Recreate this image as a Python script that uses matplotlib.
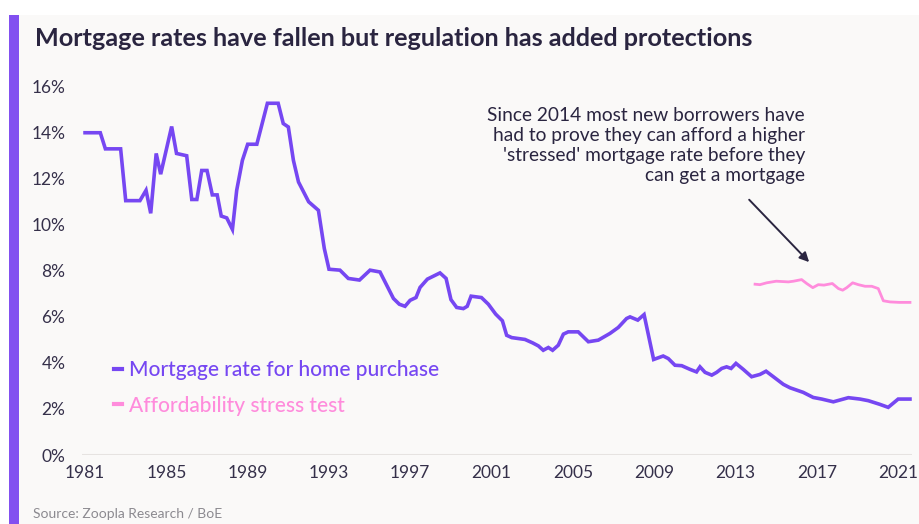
import matplotlib
matplotlib.use("Agg")
import matplotlib.pyplot as plt
from matplotlib.patches import Rectangle

# ---- data ----
mortgage_years = [1981.0, 1981.75, 1982.0, 1982.75, 1983.0, 1983.7, 1984.0, 1984.23, 1984.5, 1984.72,
                  1985.26, 1985.5, 1986.0, 1986.25, 1986.5, 1986.74, 1987.0, 1987.26, 1987.5, 1987.7,
                  1987.97, 1988.25, 1988.46, 1988.74, 1989.0, 1989.45, 1989.97, 1990.5, 1990.75, 1991.0,
                  1991.25, 1991.5, 1992.0, 1992.48, 1992.77, 1993.0, 1993.54, 1993.95, 1994.5, 1995.02,
                  1995.51, 1996.17, 1996.46, 1996.74, 1996.99, 1997.28, 1997.48, 1997.84, 1998.46, 1998.76,
                  1999.0, 1999.28, 1999.61, 1999.8, 1999.99, 2000.5, 2000.84, 2001.2, 2001.53, 2001.74,
                  2001.99, 2002.64, 2003.02, 2003.3, 2003.54, 2003.79, 2004.0, 2004.28, 2004.53, 2004.77,
                  2005.26, 2005.76, 2006.25, 2006.82, 2007.23, 2007.64, 2007.81, 2008.19, 2008.5, 2008.97,
                  2009.44, 2009.69, 2010.02, 2010.35, 2010.76, 2011.08, 2011.25, 2011.5, 2011.83, 2012.07,
                  2012.32, 2012.56, 2012.78, 2013.02, 2013.38, 2013.79, 2014.2, 2014.5, 2014.86, 2015.35,
                  2015.68, 2016.33, 2016.82, 2017.24, 2017.81, 2018.14, 2018.55, 2019.12, 2019.53, 2020.1,
                  2020.51, 2021.0, 2021.58]
mortgage_rate = [14.0, 14.0, 13.3, 13.3, 11.05, 11.05, 11.5, 10.5, 13.1, 12.2,
                 14.27, 13.1, 13.0, 11.1, 11.1, 12.36, 12.36, 11.3, 11.3, 10.38,
                 10.3, 9.8, 11.5, 12.8, 13.5, 13.5, 15.28, 15.28, 14.4, 14.25,
                 12.8, 11.86, 11.0, 10.63, 8.97, 8.07, 8.03, 7.67, 7.6, 8.03,
                 7.95, 6.8, 6.55, 6.46, 6.72, 6.84, 7.28, 7.64, 7.91, 7.67,
                 6.75, 6.41, 6.36, 6.46, 6.9, 6.84, 6.55, 6.12, 5.83, 5.2,
                 5.1, 5.02, 4.87, 4.74, 4.55, 4.67, 4.55, 4.77, 5.25, 5.35,
                 5.35, 4.92, 4.99, 5.28, 5.54, 5.93, 6.0, 5.86, 6.1, 4.15,
                 4.3, 4.19, 3.9, 3.88, 3.72, 3.61, 3.83, 3.59, 3.47, 3.59,
                 3.76, 3.83, 3.76, 3.98, 3.72, 3.4, 3.5, 3.64, 3.4, 3.07,
                 2.92, 2.72, 2.5, 2.43, 2.31, 2.39, 2.49, 2.43, 2.36, 2.2,
                 2.07, 2.43, 2.43]

stress_years = [2013.96, 2014.2, 2014.53, 2015.0, 2015.6, 2015.85, 2016.25, 2016.5, 2016.8, 2017.07,
                2017.35, 2017.76, 2018.06, 2018.27, 2018.47, 2018.76, 2019.04, 2019.37, 2019.7, 2020.02,
                2020.27, 2020.6, 2021.05, 2021.58]
stress_rate = [7.42, 7.4, 7.48, 7.55, 7.52, 7.55, 7.62, 7.45, 7.27, 7.4,
               7.38, 7.45, 7.23, 7.16, 7.27, 7.48, 7.4, 7.33, 7.33, 7.23,
               6.7, 6.65, 6.63, 6.63]

x_ticks = [1981, 1985, 1989, 1993, 1997, 2001, 2005, 2009, 2013, 2017, 2021]
y_ticks = [0, 2, 4, 6, 8, 10, 12, 14, 16]

title = "Mortgage rates have fallen but regulation has added protections"
series_names = ["Mortgage rate for home purchase", "Affordability stress test"]
note = ("Since 2014 most new borrowers have\n"
        "had to prove they can afford a higher\n"
        "'stressed' mortgage rate before they\n"
        "can get a mortgage")
source = "Source: Zoopla Research / BoE"

# ---- style ----
FONT = ["Lato", "DejaVu Sans"]
plt.rcParams["font.family"] = FONT
PURPLE = "#7647f2"
PINK = "#ff8cdc"
DARK = "#2a2540"
BG = "#faf9f8"

W, H = 919, 524
fig = plt.figure(figsize=(W / 100, H / 100), dpi=100, facecolor="white")

# background panel and left accent bar
fig.patches.append(Rectangle((18 / W, 0), 1 - 18 / W, 1 - 15 / H, transform=fig.transFigure,
                             facecolor=BG, edgecolor="none", zorder=-10))
fig.patches.append(Rectangle((9 / W, 0), 9.5 / W, 1 - 15 / H, transform=fig.transFigure,
                             facecolor="#8250f0", edgecolor="none", zorder=-10))

left, right, top, bottom = 82, 912, 86.7, 455
ax = fig.add_axes([left / W, 1 - bottom / H, (right - left) / W, (bottom - top) / H])
ax.set_zorder(5)
ax.set_facecolor("none")
ax.set_xlim(1980.85, 2021.68)
ax.set_ylim(0, 16)

ax.axhline(0, color="#e6e3e1", lw=1.5, zorder=1)
l1, = ax.plot(mortgage_years, mortgage_rate, color=PURPLE, lw=2.6, solid_joinstyle="miter",
              label=series_names[0], zorder=3, clip_on=False)
l2, = ax.plot(stress_years, stress_rate, color=PINK, lw=2.0, label=series_names[1],
              zorder=3, clip_on=False)

for s in ax.spines.values():
    s.set_visible(False)
ax.set_xticks(x_ticks)
ax.set_xticklabels([str(t) for t in x_ticks])
ax.set_yticks(y_ticks)
ax.set_yticklabels([f"{t}%" for t in y_ticks])
ax.tick_params(axis="both", length=0, colors="#35304a", labelsize=12.5)
ax.tick_params(axis="y", pad=12)
ax.tick_params(axis="x", pad=7)

leg = ax.legend(handles=[l1, l2], loc="upper left", bbox_to_anchor=(114 / W, 1 - 360 / H),
                bbox_transform=fig.transFigure, frameon=False,
                handlelength=0.4, handletextpad=0.3, labelspacing=0.75, labelcolor="linecolor",
                borderaxespad=0, borderpad=0, prop={"weight": "medium", "size": 15})
for h in leg.legend_handles:
    h.set_linewidth(3)

ax.text(2016.42, 15.1, note, ha="right", va="top", multialignment="right",
        fontsize=13.8, color=DARK, linespacing=1.2)
ax.annotate("", xy=(2016.62, 8.38), xytext=(2013.67, 11.09),
            arrowprops=dict(arrowstyle="-|>", color=DARK, lw=1.4, mutation_scale=14,
                            shrinkA=0, shrinkB=0))

fig.text(35 / W, 1 - 39 / H, title, ha="left", va="center", fontsize=18.2,
         fontweight="bold", color=DARK)
fig.text(33 / W, 1 - 514 / H, source, ha="left", va="center", fontsize=10, color="#8c8a90")

fig.savefig("out.png", dpi=100, facecolor=fig.get_facecolor())
